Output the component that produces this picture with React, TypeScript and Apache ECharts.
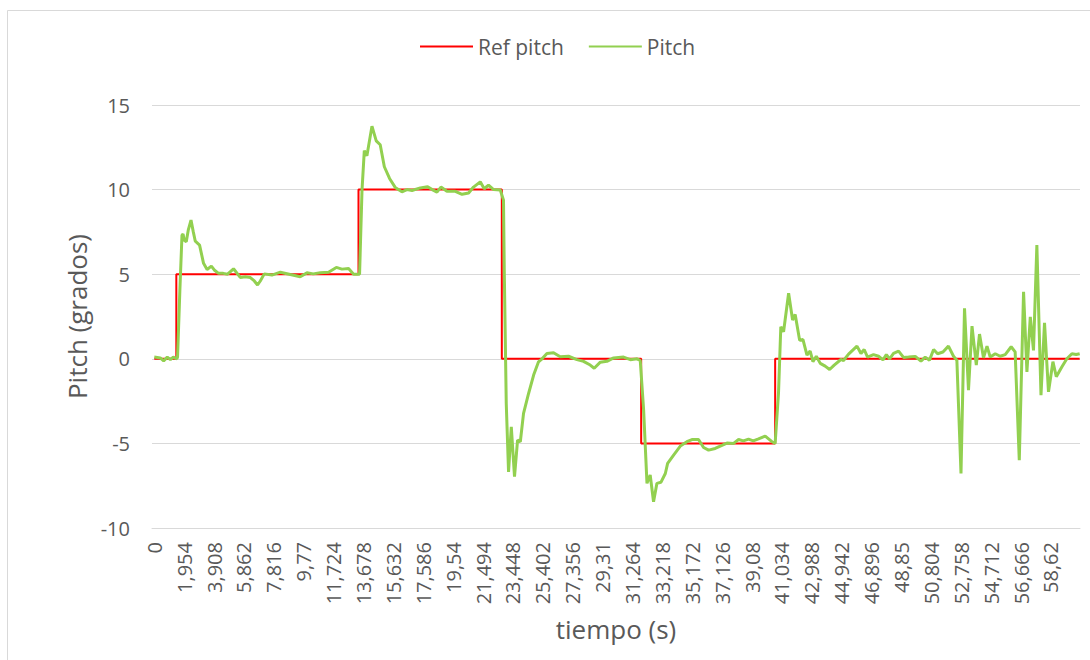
import React, { useEffect, useRef } from 'react';
import * as echarts from 'echarts';

const xTicks = [0, 1.954, 3.908, 5.862, 7.816, 9.77, 11.724, 13.678, 15.632, 17.586, 19.54, 21.494, 23.448, 25.402, 27.356, 29.31, 31.264, 33.218, 35.172, 37.126, 39.08, 41.034, 42.988, 44.942, 46.896, 48.85, 50.804, 52.758, 54.712, 56.666, 58.62];
const yTicks = [-10, -5, 0, 5, 10, 15];

const refTime = [0, 1.44, 13.35, 22.72, 31.83, 40.59, 60.5];
const refPitch = [0, 5, 10, 0, -5, 0, 0];

const pitchTime = [
  0, 0.39, 0.61, 0.85, 1.05, 1.24, 1.48, 1.52, 1.67, 1.81, 1.88, 1.96, 2.09, 2.22, 2.4, 2.55, 2.68, 2.96, 3.22, 3.45,
  3.73, 3.92, 4.2, 4.51, 4.79, 5.18, 5.62, 5.95, 6.28, 6.54, 6.75, 6.93, 7.19, 7.69, 8.24, 8.89, 9.54, 9.98, 10.39, 10.85,
  11.39, 11.9, 12.27, 12.7, 13.03, 13.42, 13.58, 13.73, 13.9, 14.23, 14.51, 14.77, 15.04, 15.38, 15.75, 16.19, 16.52, 16.85, 17.39, 17.87,
  18.17, 18.48, 18.74, 19.13, 19.68, 20.12, 20.55, 20.87, 21.31, 21.57, 21.85, 22.18, 22.62, 22.83, 22.88, 23.01, 23.16, 23.34, 23.55, 23.75,
  23.93, 24.14, 24.47, 24.8, 25.12, 25.35, 25.67, 26.1, 26.54, 27.08, 27.63, 28.06, 28.5, 28.76, 29.16, 29.59, 30.03, 30.68, 31.12, 31.56,
  31.77, 31.99, 32.21, 32.42, 32.64, 32.86, 33.12, 33.41, 33.56, 33.95, 34.39, 34.82, 35.15, 35.58, 35.91, 36.24, 36.67, 37.0, 37.44, 37.87,
  38.2, 38.51, 38.85, 39.16, 39.5, 39.94, 40.38, 40.59, 40.81, 40.96, 41.14, 41.47, 41.73, 41.9, 42.19, 42.41, 42.67, 42.88, 43.06, 43.28,
  43.54, 43.86, 44.15, 44.45, 44.89, 45.06, 45.39, 45.94, 46.2, 46.41, 46.63, 47.02, 47.35, 47.64, 47.86, 48.07, 48.33, 48.66, 48.98, 49.31,
  49.75, 50.12, 50.4, 50.68, 50.95, 51.21, 51.56, 51.92, 52.25, 52.47, 52.74, 52.97, 53.23, 53.46, 53.74, 53.95, 54.21, 54.44, 54.65, 54.98,
  55.3, 55.63, 56.02, 56.28, 56.55, 56.83, 57.05, 57.27, 57.48, 57.7, 57.97, 58.2, 58.46, 58.75, 58.97, 59.34, 59.66, 59.99, 60.27, 60.5,
];
const pitchValue = [
  0.1, 0.05, -0.12, 0.1, -0.05, 0.1, 0.0, 0.1, 4.0, 7.3, 7.37, 7.0, 6.92, 7.6, 8.2, 7.5, 6.95, 6.72, 5.64, 5.28,
  5.48, 5.25, 5.05, 5.05, 5.0, 5.32, 4.81, 4.85, 4.8, 4.6, 4.36, 4.6, 5.02, 4.95, 5.12, 4.98, 4.85, 5.08, 5.02, 5.08,
  5.12, 5.4, 5.3, 5.33, 5.0, 5.0, 9.97, 12.3, 12.0, 13.75, 12.88, 12.65, 11.35, 10.66, 10.13, 9.87, 10.0, 9.95, 10.1, 10.17,
  10.0, 9.85, 10.15, 9.9, 9.9, 9.72, 9.8, 10.15, 10.46, 10.05, 10.27, 10.0, 9.98, 9.38, 5.24, -2.64, -6.68, -4.02, -6.97, -4.8,
  -4.9, -3.23, -2.05, -0.96, -0.18, 0.0, 0.32, 0.36, 0.12, 0.15, -0.05, -0.15, -0.37, -0.56, -0.2, -0.15, 0.05, 0.1, -0.05, 0.0,
  -0.1, -3.0, -7.36, -6.87, -8.45, -7.36, -7.3, -6.78, -6.18, -5.69, -5.16, -4.9, -4.77, -4.77, -5.24, -5.4, -5.3, -5.16, -4.98, -5.0,
  -4.77, -4.85, -4.75, -4.85, -4.73, -4.57, -4.9, -5.0, -2.0, 1.89, 1.6, 3.87, 2.29, 2.62, 1.1, 1.14, 0.22, 0.46, -0.17, 0.15,
  -0.27, -0.43, -0.63, -0.37, -0.04, -0.1, 0.28, 0.75, 0.31, 0.55, 0.1, 0.25, 0.15, -0.06, 0.25, 0.0, 0.32, 0.45, 0.08, 0.1,
  0.14, -0.14, 0.1, -0.08, 0.55, 0.3, 0.4, 0.75, 0.15, -0.08, -6.78, 2.98, -1.85, 1.93, -0.37, 1.46, 0.06, 0.75, 0.1, 0.3,
  0.15, 0.25, 0.71, 0.41, -5.99, 3.96, -0.77, 2.48, 0.5, 6.72, -2.15, 2.13, -1.95, -0.17, -1.06, -0.47, 0.0, 0.3, 0.25, 0.3,
];

const FONT = '"Open Sans", "Noto Sans", sans-serif';
const TEXT = '#595959';
const GRID_COLOR = '#d9d9d9';

export default function App() {
  const ref = useRef<HTMLDivElement>(null);

  useEffect(() => {
    if (!ref.current) return;
    const chart = echarts.init(ref.current, undefined, { renderer: 'svg' });
    const fmt = (v: number) => String(Math.round(v * 1000) / 1000).replace('.', ',');
    chart.setOption({
      animation: false,
      backgroundColor: '#ffffff',
      textStyle: { fontFamily: FONT, color: TEXT },
      graphic: [
        {
          type: 'rect',
          shape: { x: 7.5, y: 10.5, width: 1200, height: 800 },
          style: { fill: 'none', stroke: GRID_COLOR, lineWidth: 1 },
          silent: true,
        },
      ],
      legend: {
        left: 420,
        top: 36,
        padding: 0,
        itemWidth: 53,
        itemHeight: 2,
        itemGap: 25,
        icon: 'rect',
        textStyle: { fontFamily: FONT, fontSize: 21, color: TEXT },
        data: ['Ref pitch', 'Pitch'],
      },
      grid: { left: 152, top: 105, right: 10, bottom: 132 },
      xAxis: {
        type: 'value',
        min: -0.15,
        max: 60.52,
        name: 'tiempo (s)',
        nameLocation: 'middle',
        nameGap: 88,
        nameTextStyle: { fontFamily: FONT, fontSize: 26, color: TEXT },
        axisLine: { show: true, onZero: false, lineStyle: { color: GRID_COLOR, width: 1 } },
        axisTick: { show: false },
        splitLine: { show: false },
        axisLabel: {
          customValues: xTicks,
          rotate: 90,
          margin: 14,
          fontFamily: FONT,
          fontSize: 20,
          color: TEXT,
          formatter: (v: number) => fmt(v),
        },
      },
      yAxis: {
        type: 'value',
        min: yTicks[0],
        max: yTicks[yTicks.length - 1],
        interval: 5,
        name: 'Pitch (grados)',
        nameLocation: 'middle',
        nameGap: 60,
        nameTextStyle: { fontFamily: FONT, fontSize: 26, color: TEXT },
        axisLine: { show: false },
        axisTick: { show: false },
        splitLine: { show: true, lineStyle: { color: GRID_COLOR, width: 1 } },
        axisLabel: { margin: 22, fontFamily: FONT, fontSize: 20, color: TEXT },
      },
      series: [
        {
          name: 'Ref pitch',
          type: 'line',
          step: 'end',
          symbol: 'none',
          color: '#FF0000',
          lineStyle: { color: '#FF0000', width: 2 },
          data: refTime.map((t, i) => [t, refPitch[i]]),
        },
        {
          name: 'Pitch',
          type: 'line',
          symbol: 'none',
          color: '#92D050',
          lineStyle: { color: '#92D050', width: 3 },
          data: pitchTime.map((t, i) => [t, pitchValue[i]]),
        },
      ],
    });
    return () => chart.dispose();
  }, []);

  return (
    <div
      ref={ref}
      style={{ position: 'fixed', left: 0, top: 0, width: 1090, height: 660 }}
    />
  );
}
